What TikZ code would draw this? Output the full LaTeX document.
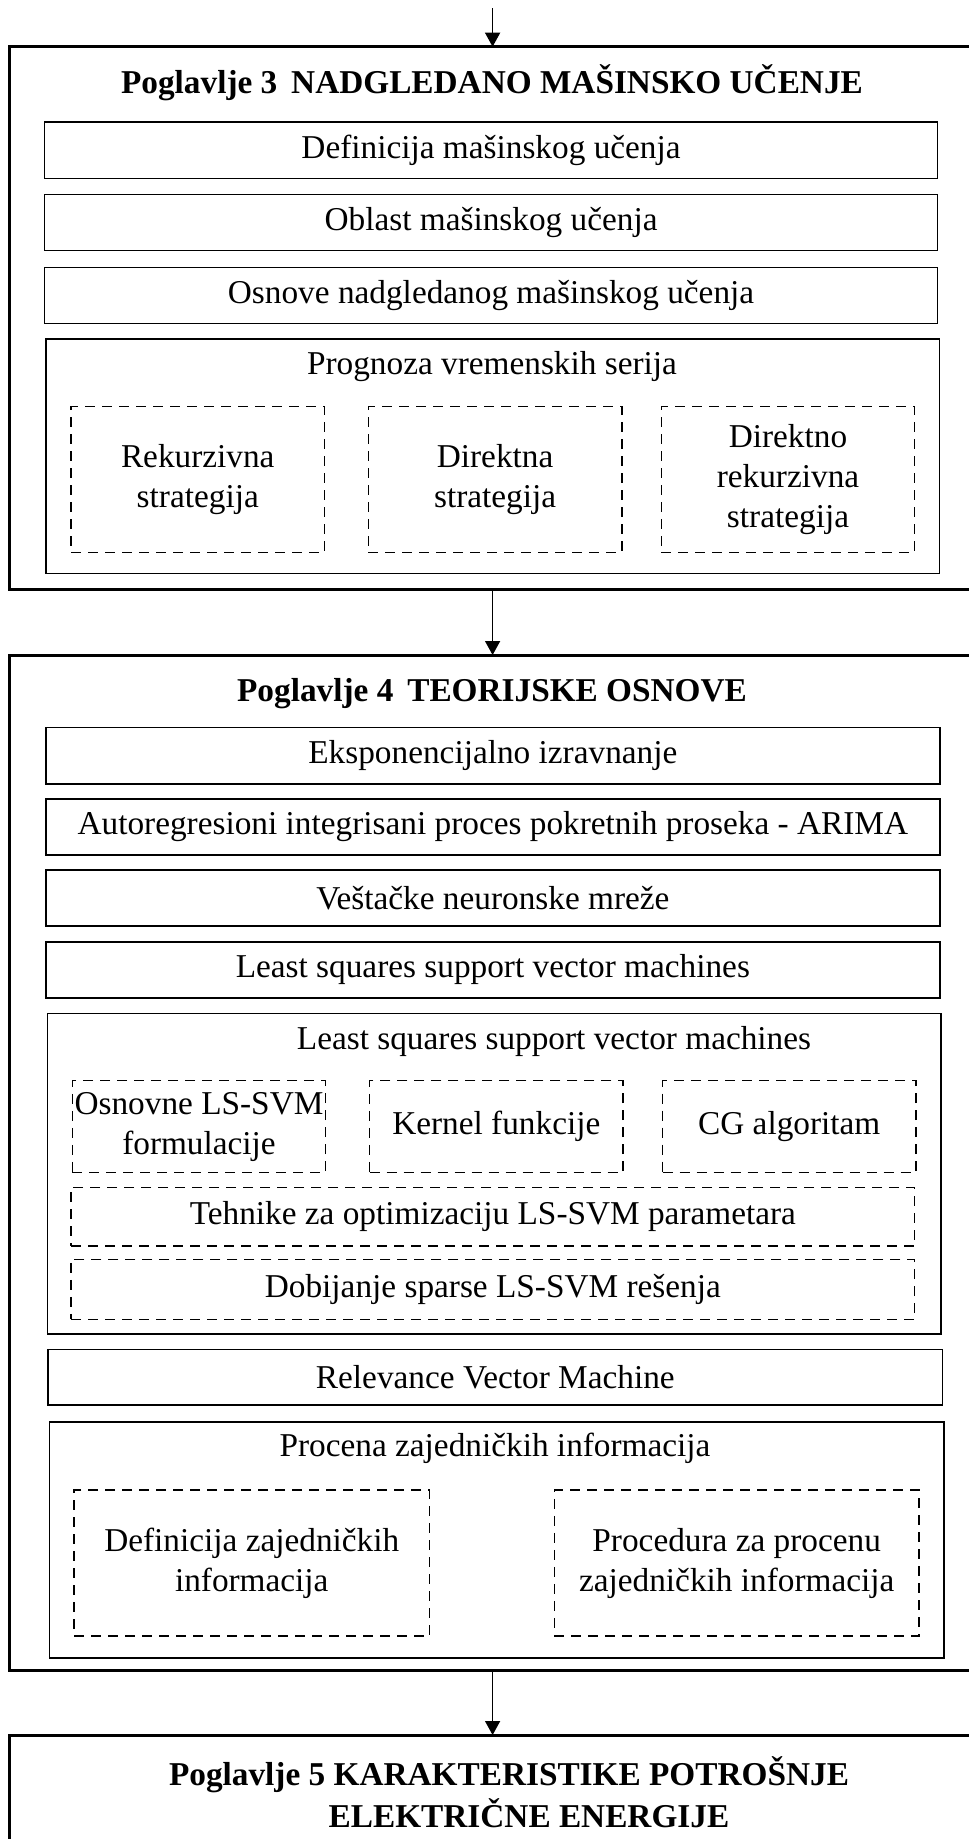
\documentclass[tikz,border=0pt]{standalone}
\usepackage{fontspec}
\setmainfont{Liberation Serif}
\usetikzlibrary{arrows.meta}

% place a rectangle node by its corners (x1,y1) and (x2,y2)
\newcommand{\cornerbox}[7]{%
  \node[#6, minimum width={(#4-#2)*1pt}, minimum height={(#5-#3)*1pt}]
    (#1) at ({(#2+#4)/2},{(#3+#5)/2}) {#7};}

\begin{document}
\begin{tikzpicture}[x=1pt,y=-1pt,
    txt/.style={font=\fontsize{33.3}{40}\selectfont, align=center, inner sep=0pt, outer sep=0pt},
    ttl/.style={txt, font=\fontsize{33.3}{42}\selectfont\bfseries},
    chapter/.style={draw, line width=3pt, inner sep=0pt, outer sep=0pt},
    solidbox/.style={txt, draw, line width=1.6pt},
    dashbox/.style={txt, draw, line width=1.4pt, dash pattern=on 10pt off 7pt},
    arr/.style={line width=1.5pt, -{Triangle[length=14pt,width=15pt]}}]
\clip (0,0) rectangle (969,1839);
\fill[white] (0,0) rectangle (969,1839);

\coordinate (ax) at (492.6,0);
\coordinate (start) at (492.6,8);

% chapter 3
\cornerbox{ch3}{9}{46.7}{990}{589.3}{chapter}{}
\node[ttl] (t3) at (492,83) {Poglavlje 3\, NADGLEDANO MAŠINSKO UČENJE};
\cornerbox{def}{44.5}{122}{937.6}{178.3}{solidbox}{Definicija mašinskog učenja}
\cornerbox{obl}{44.5}{194.3}{937.6}{250.3}{solidbox}{Oblast mašinskog učenja}
\cornerbox{osn}{44.5}{267.3}{937.6}{323.3}{solidbox}{Osnove nadgledanog mašinskog učenja}
\cornerbox{prog}{45.7}{339}{939.4}{573.3}{solidbox}{}
\node[txt] (tprog) at (492,366.7) {Prognoza vremenskih serija};
\cornerbox{rek}{71}{406.7}{324.5}{552.3}{dashbox}{Rekurzivna\\strategija}
\cornerbox{dir}{368.4}{406.7}{621.8}{552.3}{dashbox}{Direktna\\strategija}
\cornerbox{dirrek}{661.3}{406.7}{914.7}{552.3}{dashbox}{Direktno\\rekurzivna\\strategija}

% chapter 4
\cornerbox{ch4}{9}{655}{990}{1670.7}{chapter}{}
\node[ttl] (t4) at (492,693.3) {Poglavlje 4\, TEORIJSKE OSNOVE};
\cornerbox{eks}{45.7}{727.3}{940}{784}{solidbox}{Eksponencijalno izravnanje}
\cornerbox{arima}{45.7}{799}{940}{855}{solidbox}{Autoregresioni integrisani proces pokretnih proseka - ARIMA}
\cornerbox{ann}{45.7}{870}{940}{926}{solidbox}{Veštačke neuronske mreže}
\cornerbox{lssvm}{45.7}{941.7}{940}{997.7}{solidbox}{Least squares support vector machines}
\cornerbox{lsgrp}{47.6}{1013.3}{940.7}{1334}{solidbox}{}
\node[txt] (tls) at (554,1041.7) {Least squares support vector machines};
\cornerbox{osnf}{72.3}{1080.7}{325.7}{1172.7}{dashbox}{Osnovne LS-SVM\\formulacije}
\cornerbox{kern}{369.6}{1080.7}{623}{1172.7}{dashbox}{Kernel funkcije}
\cornerbox{cg}{662.5}{1080.7}{916}{1172.7}{dashbox}{CG algoritam}
\cornerbox{teh}{71}{1187.3}{914.7}{1246}{dashbox}{Tehnike za optimizaciju LS-SVM parametara}
\cornerbox{dob}{71}{1259.3}{914.7}{1319.3}{dashbox}{Dobijanje sparse LS-SVM rešenja}
\cornerbox{rvm}{48.2}{1349.3}{942.5}{1405}{solidbox}{Relevance Vector Machine}
\cornerbox{proc}{49.4}{1421.7}{943.8}{1657.7}{solidbox}{}
\node[txt] (tproc) at (495,1448.3) {Procena zajedničkih informacija};
\cornerbox{defz}{74}{1490}{429.5}{1636}{dashbox}{Definicija zajedničkih\\informacija}
\cornerbox{procz}{554.4}{1490}{919}{1636}{dashbox}{Procedura za procenu\\zajedničkih informacija}

% chapter 5
\cornerbox{ch5}{9}{1735}{990}{1900}{chapter}{}
\node[ttl] (t5) at (509,1792) {Poglavlje 5 KARAKTERISTIKE POTROŠNJE\\\hspace*{40pt}ELEKTRIČNE ENERGIJE};

% flow between chapters
\draw[arr] (start) -- (ch3.north -| ax);
\draw[arr] (ch3.south -| ax) -- (ch4.north -| ax);
\draw[arr] (ch4.south -| ax) -- (ch5.north -| ax);
\end{tikzpicture}
\end{document}
